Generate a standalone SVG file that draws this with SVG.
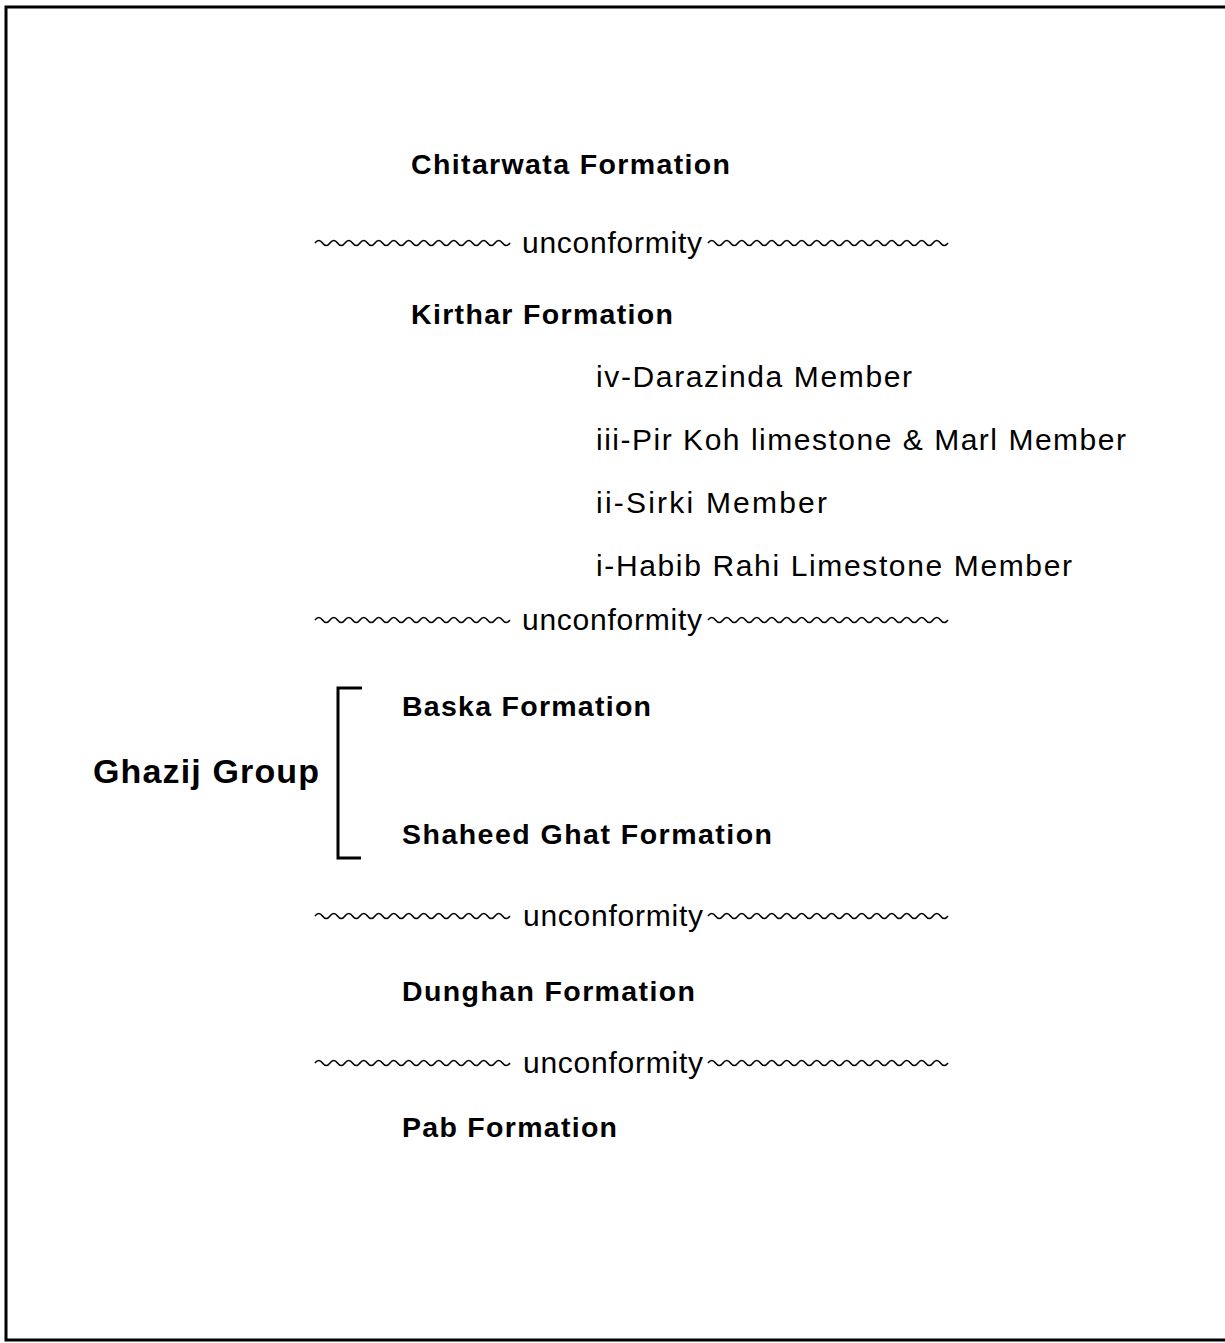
<svg xmlns="http://www.w3.org/2000/svg" xmlns:xlink="http://www.w3.org/1999/xlink" width="1225" height="1343" viewBox="0 0 1225 1343">
<style>
.b{font-family:"Liberation Sans",Arial,sans-serif;font-weight:bold;font-size:28.5px;fill:#000}
.r{font-family:"Liberation Sans",Arial,sans-serif;font-size:30px;fill:#000}
.g{font-family:"Liberation Sans",Arial,sans-serif;font-weight:bold;font-size:34px;fill:#000}
.w{fill:none;stroke:#000;stroke-width:1.6}
.ln{fill:none;stroke:#000;stroke-width:3}
</style>
<defs>
<path id="wl" class="w" d="M315,0 q3.75,-5 7.5,0 t7.5,0 t7.5,0 t7.5,0 t7.5,0 t7.5,0 t7.5,0 t7.5,0 t7.5,0 t7.5,0 t7.5,0 t7.5,0 t7.5,0 t7.5,0 t7.5,0 t7.5,0 t7.5,0 t7.5,0 t7.5,0 t7.5,0 t7.5,0 t7.5,0 t7.5,0 t7.5,0 t7.5,0 t7.5,0"/>
<path id="wr" class="w" d="M708,0 q3.75,-5 7.5,0 t7.5,0 t7.5,0 t7.5,0 t7.5,0 t7.5,0 t7.5,0 t7.5,0 t7.5,0 t7.5,0 t7.5,0 t7.5,0 t7.5,0 t7.5,0 t7.5,0 t7.5,0 t7.5,0 t7.5,0 t7.5,0 t7.5,0 t7.5,0 t7.5,0 t7.5,0 t7.5,0 t7.5,0 t7.5,0 t7.5,0 t7.5,0 t7.5,0 t7.5,0 t7.5,0 t7.5,0"/>
</defs>
<rect width="1225" height="1343" fill="#fff"/>
<g id="frame">
<path class="ln" d="M1225,7 H6 V1340 H1225"/>
</g>
<g id="chitarwata"><text class="b" x="411" y="174" textLength="319" lengthAdjust="spacing">Chitarwata Formation</text></g>
<g id="unconformity1">
<use xlink:href="#wl" transform="translate(0,243)"/>
<text class="r" x="522" y="253" textLength="180" lengthAdjust="spacing">unconformity</text>
<use xlink:href="#wr" transform="translate(0,243)"/>
</g>
<g id="kirthar"><text class="b" x="411" y="324" textLength="262" lengthAdjust="spacing">Kirthar Formation</text></g>
<g id="member-iv"><text class="r" x="596" y="387" textLength="316" lengthAdjust="spacing">iv-Darazinda Member</text></g>
<g id="member-iii"><text class="r" x="596" y="450" textLength="530" lengthAdjust="spacing">iii-Pir Koh limestone &amp; Marl Member</text></g>
<g id="member-ii"><text class="r" x="596" y="513" textLength="231" lengthAdjust="spacing">ii-Sirki  Member</text></g>
<g id="member-i"><text class="r" x="596" y="576" textLength="476" lengthAdjust="spacing">i-Habib Rahi Limestone Member</text></g>
<g id="unconformity2">
<use xlink:href="#wl" transform="translate(0,620)"/>
<text class="r" x="522" y="630" textLength="180" lengthAdjust="spacing">unconformity</text>
<use xlink:href="#wr" transform="translate(0,620)"/>
</g>
<g id="ghazij">
<text class="g" x="93" y="783" textLength="226" lengthAdjust="spacing">Ghazij Group</text>
<path class="ln" d="M362,688 H338 V858 H361"/>
</g>
<g id="baska"><text class="b" x="402" y="716" textLength="249" lengthAdjust="spacing">Baska Formation</text></g>
<g id="shaheed"><text class="b" x="402" y="844" textLength="370" lengthAdjust="spacing">Shaheed Ghat Formation</text></g>
<g id="unconformity3">
<use xlink:href="#wl" transform="translate(0,916)"/>
<text class="r" x="523" y="926" textLength="180" lengthAdjust="spacing">unconformity</text>
<use xlink:href="#wr" transform="translate(0,916)"/>
</g>
<g id="dunghan"><text class="b" x="402" y="1001" textLength="293" lengthAdjust="spacing">Dunghan Formation</text></g>
<g id="unconformity4">
<use xlink:href="#wl" transform="translate(0,1063)"/>
<text class="r" x="523" y="1073" textLength="180" lengthAdjust="spacing">unconformity</text>
<use xlink:href="#wr" transform="translate(0,1063)"/>
</g>
<g id="pab"><text class="b" x="402" y="1137" textLength="215" lengthAdjust="spacing">Pab Formation</text></g>
</svg>
